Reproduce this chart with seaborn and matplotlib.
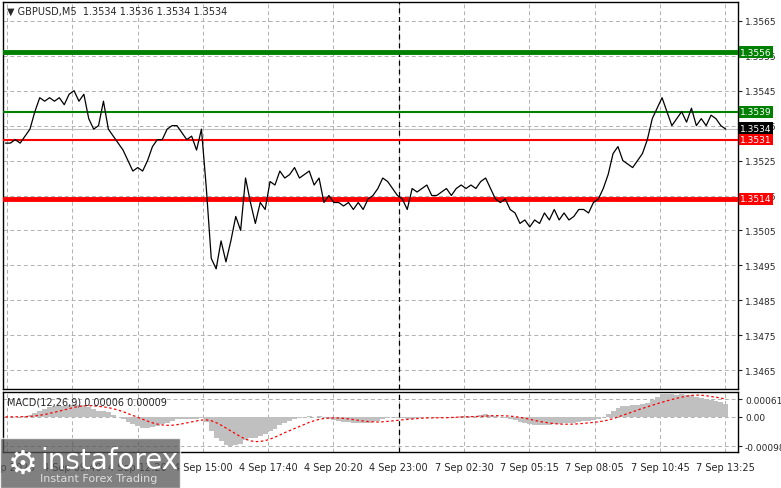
import numpy as np
import pandas as pd
import matplotlib
matplotlib.use("Agg")
import matplotlib.pyplot as plt
import seaborn as sns

close = [1.3530, 1.3530, 1.3531, 1.3530, 1.3532, 1.3534, 1.3539, 1.3543, 1.3542, 1.3543,
         1.3542, 1.3543, 1.3541, 1.3544, 1.3545, 1.3542, 1.3544, 1.3537, 1.3534, 1.3535,
         1.3542, 1.3534, 1.3532, 1.3530, 1.3528, 1.3525, 1.3522, 1.3523, 1.3522, 1.3525,
         1.3529, 1.3531, 1.3531, 1.3534, 1.3535, 1.3535, 1.3533, 1.3531, 1.3532, 1.3528,
         1.3534, 1.3517, 1.3497, 1.3494, 1.3502, 1.3496, 1.3502, 1.3509, 1.3505, 1.3520,
         1.3513, 1.3507, 1.3513, 1.3511, 1.3519, 1.3518, 1.3522, 1.3520, 1.3521, 1.3523,
         1.3520, 1.3521, 1.3522, 1.3518, 1.3520, 1.3513, 1.3515, 1.3513, 1.3513, 1.3512,
         1.3513, 1.3511, 1.3513, 1.3511, 1.3514, 1.3515, 1.3517, 1.3520, 1.3519, 1.3517,
         1.3515, 1.3514, 1.3511, 1.3517, 1.3516, 1.3517, 1.3518, 1.3515, 1.3515, 1.3516,
         1.3517, 1.3515, 1.3517, 1.3518, 1.3517, 1.3518, 1.3517, 1.3519, 1.3520, 1.3517,
         1.3514, 1.3513, 1.3514, 1.3511, 1.3510, 1.3507, 1.3508, 1.3506, 1.3508, 1.3507,
         1.3510, 1.3508, 1.3511, 1.3508, 1.3510, 1.3508, 1.3509, 1.3511, 1.3511, 1.3510,
         1.3513, 1.3514, 1.3517, 1.3521, 1.3527, 1.3529, 1.3525, 1.3524, 1.3523, 1.3525,
         1.3527, 1.3531, 1.3537, 1.3540, 1.3543, 1.3539, 1.3535, 1.3537, 1.3539, 1.3536,
         1.3540, 1.3535, 1.3537, 1.3535, 1.3538, 1.3537, 1.3535, 1.3534]

tick_labels = ["4 Sep 2026", "4 Sep 09:40", "4 Sep 12:20", "4 Sep 15:00", "4 Sep 17:40",
               "4 Sep 20:20", "4 Sep 23:00", "7 Sep 02:30", "7 Sep 05:15", "7 Sep 08:05",
               "7 Sep 10:45", "7 Sep 13:25"]
levels = [1.3556, 1.3539, 1.3531, 1.3514]
level_colors = ["#008000", "#008000", "#ff0000", "#ff0000"]
level_widths = [3.5, 1.5, 1.5, 3.5]
price_ticks = [1.3565, 1.3555, 1.3545, 1.3535, 1.3525, 1.3515, 1.3505, 1.3495,
               1.3485, 1.3475, 1.3465]

sns.set_style("white")
plt.rcParams['font.family'] = ['DejaVu Sans']

df = pd.DataFrame({"bar": np.arange(len(close)), "close": close})
s = df["close"]
df["macd"] = s.ewm(span=12, adjust=False).mean() - s.ewm(span=26, adjust=False).mean()
df["signal"] = df["macd"].rolling(9, min_periods=1).mean()

n = len(close)
last = n - 1
tick_pos = np.linspace(0, last, len(tick_labels))
tick_pos = [p * (727 - 5) / (727 - 3) + 0.3 for p in tick_pos]

W, H = 781, 489
fig = plt.figure(figsize=(W / 100, H / 100), dpi=100)
ax = fig.add_axes([3 / W, 1 - 390 / H, 735 / W, 387 / H])
ax2 = fig.add_axes([3 / W, 1 - 453 / H, 735 / W, 60 / H])

xlim = (-0.5, last + 2.5)
for a in (ax, ax2):
    a.set_xlim(*xlim)
    a.yaxis.tick_right()
    a.grid(True, color="#b0b0b0", linestyle=(0, (4, 3)), linewidth=0.7)
    a.set_xticks(tick_pos)
    for sp in a.spines.values():
        sp.set_color("black")
        sp.set_linewidth(1)
    a.tick_params(axis="y", labelsize=6.5, length=3, pad=2)
    a.axvline(tick_pos[6], color="black", linestyle=(0, (4, 3)), linewidth=0.9)

ax.set_ylim(1.34596, 1.35704)
ax.set_yticks(price_ticks)
ax.set_yticklabels([f"{v:.4f}" for v in price_ticks])
ax.tick_params(axis="x", labelbottom=False, length=0)

for lv, c, lw in zip(levels, level_colors, level_widths):
    ax.axhline(lv, color=c, linewidth=lw, zorder=3)
    ax.text(1.003, lv, f"{lv:.4f}", transform=ax.get_yaxis_transform(), va="center",
            ha="left", fontsize=6.5, color="white",
            bbox=dict(boxstyle="square,pad=0.15", fc=c, ec="none"))
ax.axhline(close[-1], color="#c0c0c0", linewidth=0.8)
ax.text(1.003, close[-1] + 0.00003, f"{close[-1]:.4f}", transform=ax.get_yaxis_transform(),
        va="center", ha="left", fontsize=6.5, color="white",
        bbox=dict(boxstyle="square,pad=0.15", fc="black", ec="none"), zorder=5)

sns.lineplot(data=df, x="bar", y="close", ax=ax, color="black", linewidth=0.9, zorder=4)
ax.set_xlabel("")
ax.set_ylabel("")
ax.text(0.005, 0.99, "\u25bc GBPUSD,M5  1.3534 1.3536 1.3534 1.3534", transform=ax.transAxes,
        va="top", ha="left", fontsize=7)

ax2.bar(df["bar"], df["macd"], width=1.0, color="#c0c0c0", linewidth=0)
sns.lineplot(data=df, x="bar", y="signal", ax=ax2, color="red", linewidth=0.9,
             linestyle=(0, (2, 2)))
ax2.set_xlabel("")
ax2.set_ylabel("")
lim = max(df["macd"].abs().max(), df["signal"].abs().max())
ax2.set_ylim(-lim * 1.2, lim * 0.85)
ax2.set_yticks([-lim, 0, lim * 0.6])
ax2.set_yticklabels(["-0.00098", "0.00", "0.00061"])
ax2.set_xticklabels(tick_labels, fontsize=7)
ax2.tick_params(axis="x", length=3, pad=4)
ax2.text(0.005, 0.92, "MACD(12,26,9) 0.00006 0.00009", transform=ax2.transAxes,
         va="top", ha="left", fontsize=7)

fig.patches.append(plt.Rectangle((0, 0), 180 / W, 50 / H, transform=fig.transFigure,
                                 fc="#555555", alpha=0.75, zorder=10))
fig.text(40 / W, 28 / H, "instaforex", color="white", fontsize=20, va="center", zorder=11)
fig.text(40 / W, 10 / H, "Instant Forex Trading", color="#dddddd", fontsize=8,
         va="center", zorder=11)
fig.text(8 / W, 25 / H, "\u2699", color="white", fontsize=24, va="center", zorder=11)

fig.savefig("out.png", dpi=100)
